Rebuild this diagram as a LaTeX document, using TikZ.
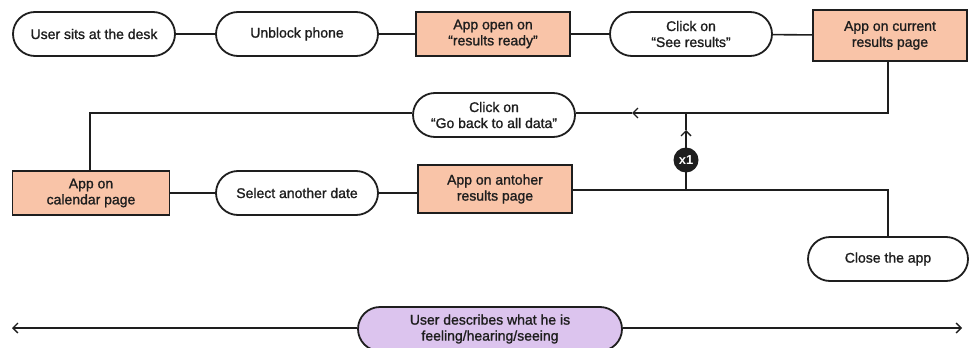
\documentclass[tikz,border=0pt]{standalone}
\usepackage{fontspec}
\setmainfont{Liberation Sans}
\newfontfamily\labelfont{Liberation Sans}[FakeBold=1.2]
\usetikzlibrary{arrows.meta}

\definecolor{peach}{RGB}{249,196,168}
\definecolor{lilac}{RGB}{220,196,238}
\definecolor{ink}{RGB}{30,30,30}

\tikzset{
  every node/.style={font=\labelfont\fontsize{14}{16}\selectfont, text=ink, align=center},
  action/.style={draw=ink, line width=1.8pt, rounded corners=22pt, fill=white,
    minimum width=162pt, minimum height=44pt, inner sep=0pt},
  screen/.style={draw=ink, line width=1.8pt, fill=peach,
    minimum width=154pt, minimum height=44pt, inner sep=0pt},
  link/.style={draw=ink, line width=1.6pt},
  barb/.style={-{Straight Barb[length=5pt, width=10pt, line width=1.4pt]}}
}

\begin{document}
\begin{tikzpicture}[x=1pt, y=-1pt]
  \useasboundingbox (0,0) rectangle (972,348);

  % First row
  \node[action] (desk) at (94,34) {User sits at the desk};
  \node[action] (unblock) at (297,34) {Unblock phone};
  \node[screen] (ready) at (493,34) {App open on\\“results ready”};
  \node[action] (see) at (691,34) {Click on\\“See results”};
  \node[screen, minimum height=51pt] (current) at (890,35.5) {App on current\\results page};

  \draw[link] (desk) -- (unblock);
  \draw[link] (unblock) -- (ready);
  \draw[link] (ready) -- (see);
  \draw[link] (see) -- (current);

  % Back to all data
  \node[action, minimum width=162pt] (back) at (494,115) {Click on\\“Go back to all data”};
  \coordinate (lefttip) at (632,113);
  \draw[link, barb] (current.south -| 888,0) |- (lefttip);
  \draw[link] (lefttip) -- (back.east |- lefttip);

  % Second row
  \node[screen, minimum width=157pt] (calendar) at (91,193) {App on\\calendar page};
  \node[action] (date) at (297,193) {Select another date};
  \node[screen, minimum height=48pt] (other) at (495,189) {App on antoher\\results page};
  \node[action, minimum width=160pt] (close) at (888,259) {Close the app};

  \draw[link] (back.west |- lefttip) -| (calendar.north -| 90,0);
  \draw[link] (calendar) -- (date);
  \draw[link] (date) -- (date -| other.west);
  \draw[link] (other.east |- 0,190) -| (close.north);

  % Repeat loop
  \coordinate (join) at (686,190);
  \coordinate (uptip) at (686,130);
  \draw[link, barb] (join) -- (uptip);
  \draw[link] (uptip) -- (686,113);
  \node[circle, fill=ink, minimum size=25pt, inner sep=0pt, text=white,
    font=\fontsize{13}{14}\selectfont\bfseries] (once) at (686,160) {x1};

  % Narration timeline
  \node[action, fill=lilac, minimum width=264pt] (tell) at (490,329)
    {User describes what he is\\feeling/hearing/seeing};
  \coordinate (start) at (12,328);
  \coordinate (finish) at (962,328);
  \draw[link, barb] (tell.west |- start) -- (start);
  \draw[link, barb] (tell.east |- finish) -- (finish);
\end{tikzpicture}
\end{document}
